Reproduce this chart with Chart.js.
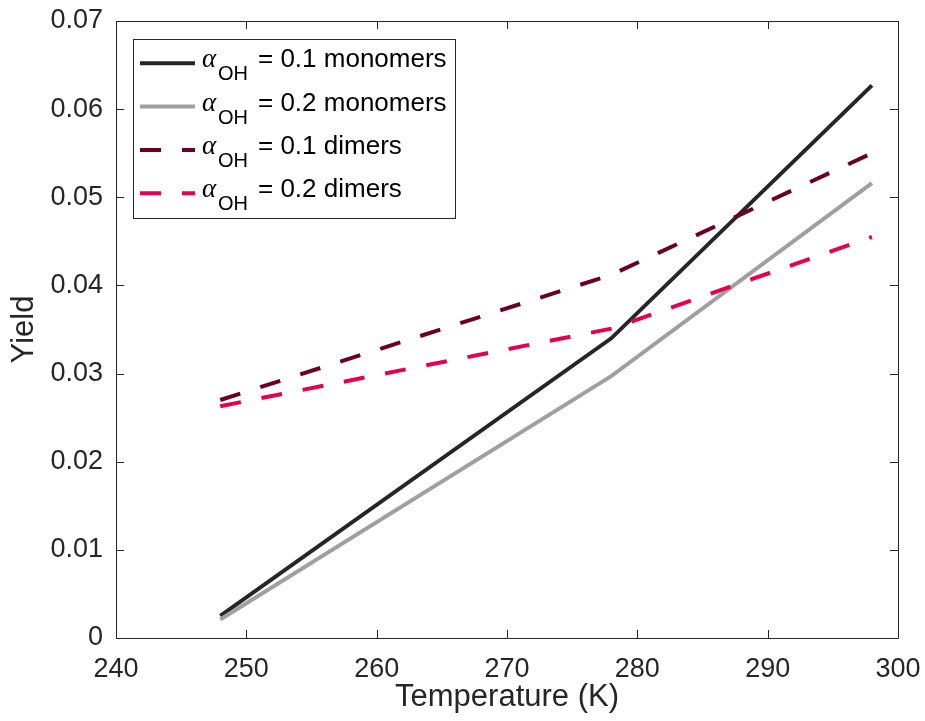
<!DOCTYPE html>
<html>
<head>
<meta charset="utf-8">
<script src="https://cdn.jsdelivr.net/npm/chart.js@4/dist/chart.umd.min.js"></script>
<style>
  html, body { margin: 0; padding: 0; background: #ffffff; }
  #wrap { width: 925px; height: 721px; }
</style>
</head>
<body>
<div id="wrap"><canvas id="c" width="925" height="721"></canvas></div>
<script>
// ---- data ----
const temperatures = [248, 278, 298];
const mono01  = [0.0025, 0.0340, 0.0627];
const mono02  = [0.0021, 0.0297, 0.0516];
const dimer01 = [0.0270, 0.0412, 0.0550];
const dimer02 = [0.0263, 0.0351, 0.0455];

const alphaValues = ['0.1', '0.2', '0.1', '0.2'];
const speciesNames = ['monomers', 'monomers', 'dimers', 'dimers'];
const seriesColors = ['#262626', '#a0a0a0', '#6b0026', '#e6004e'];

const xTicks = [240, 250, 260, 270, 280, 290, 300];
const xTickLabels = ['240', '250', '260', '270', '280', '290', '300'];
const yTicks = [0, 0.01, 0.02, 0.03, 0.04, 0.05, 0.06, 0.07];
const yTickLabels = ['0', '0.01', '0.02', '0.03', '0.04', '0.05', '0.06', '0.07'];

const xTitle = 'Temperature (K)';
const yTitle = 'Yield';

const FONT = '"Liberation Sans", Arial, Helvetica, sans-serif';
const INK = '#262626';
const DASH = [21, 21];

function pts(ys) { return temperatures.map((t, i) => ({ x: t, y: ys[i] })); }

const seriesValues = [mono01, mono02, dimer01, dimer02];
const datasets = seriesValues.map((vals, i) => ({
  label: 'alpha_OH = ' + alphaValues[i] + ' ' + speciesNames[i],
  data: pts(vals),
  borderColor: seriesColors[i],
  backgroundColor: seriesColors[i],
  borderWidth: 4,
  borderDash: i >= 2 ? DASH : [],
  pointRadius: 0,
  pointHoverRadius: 0,
  tension: 0,
  fill: false,
  order: 4 - i
}));

// inward ticks on all four sides + box frame
const frameTicks = {
  id: 'frameTicks',
  afterDatasetsDraw(chart) {
    const ctx = chart.ctx;
    const a = chart.chartArea;
    const xs = chart.scales.x, ys = chart.scales.y;
    const L = 8;
    ctx.save();
    ctx.strokeStyle = INK;
    ctx.lineWidth = 1;
    ctx.beginPath();
    xTicks.forEach(v => {
      const px = Math.round(xs.getPixelForValue(v)) + 0.5;
      ctx.moveTo(px, a.bottom); ctx.lineTo(px, a.bottom - L);
      ctx.moveTo(px, a.top); ctx.lineTo(px, a.top + L);
    });
    yTicks.forEach(v => {
      const py = Math.round(ys.getPixelForValue(v)) + 0.5;
      ctx.moveTo(a.left, py); ctx.lineTo(a.left + L, py);
      ctx.moveTo(a.right, py); ctx.lineTo(a.right - L, py);
    });
    ctx.stroke();
    ctx.beginPath();
    ctx.rect(Math.round(a.left) + 0.5, Math.round(a.top) + 0.5,
             Math.round(a.right - a.left), Math.round(a.bottom - a.top));
    ctx.stroke();
    ctx.restore();
  }
};

// legend with subscripted alpha_OH
const subLegend = {
  id: 'subLegend',
  afterDraw(chart) {
    const ctx = chart.ctx;
    const a = chart.chartArea;
    const bx = a.left + 17, by = a.top + 18, bw = 322, bh = 179;
    ctx.save();
    ctx.fillStyle = '#ffffff';
    ctx.fillRect(bx, by, bw, bh);
    ctx.strokeStyle = INK;
    ctx.lineWidth = 1;
    ctx.strokeRect(Math.round(bx) + 0.5, Math.round(by) + 0.5, bw, bh);
    datasets.forEach((ds, i) => {
      const ly = by + 24.3 + i * 43.3;
      const x0 = bx + 7;
      ctx.beginPath();
      ctx.strokeStyle = ds.borderColor;
      ctx.lineWidth = 4;
      ctx.setLineDash(ds.borderDash);
      ctx.moveTo(x0, ly); ctx.lineTo(x0 + 55, ly);
      ctx.stroke();
      ctx.setLineDash([]);
      ctx.fillStyle = '#000000';
      ctx.textBaseline = 'alphabetic';
      ctx.textAlign = 'left';
      ctx.font = 'italic 27px "Liberation Serif", "DejaVu Serif", serif';
      ctx.fillText('\u03B1', x0 + 62, ly + 4);
      ctx.font = '20px ' + FONT;
      ctx.fillText('OH', x0 + 78, ly + 17);
      ctx.font = '26px ' + FONT;
      ctx.fillText('= ' + alphaValues[i] + ' ' + speciesNames[i], x0 + 118, ly + 4);
    });
    ctx.restore();
  }
};

new Chart(document.getElementById('c'), {
  type: 'line',
  data: { datasets },
  plugins: [frameTicks, subLegend],
  options: {
    responsive: false,
    animation: false,
    devicePixelRatio: 1,
    layout: { padding: { top: 21, right: 27, left: 0, bottom: 0 } },
    plugins: { legend: { display: false }, tooltip: { enabled: false } },
    scales: {
      x: {
        type: 'linear', min: 240, max: 300,
        afterBuildTicks: s => { s.ticks = xTicks.map(v => ({ value: v })); },
        afterFit: s => { s.height = 83; s.paddingLeft = 0; s.paddingRight = 0; },
        grid: { display: false, drawTicks: false },
        border: { display: false },
        ticks: {
          padding: 15, color: INK, maxRotation: 0, autoSkip: false,
          font: { family: FONT, size: 27 },
          callback: v => xTickLabels[xTicks.indexOf(v)]
        },
        title: {
          display: true, text: xTitle, color: INK,
          font: { family: FONT, size: 31 },
          padding: { top: 0, bottom: 5 }
        }
      },
      y: {
        type: 'linear', min: 0, max: 0.07,
        afterBuildTicks: s => { s.ticks = yTicks.map(v => ({ value: v })); },
        afterFit: s => { s.width = 116; s.paddingTop = 0; s.paddingBottom = 0; },
        grid: { display: false, drawTicks: false },
        border: { display: false },
        ticks: {
          padding: 13, color: INK, autoSkip: false,
          font: { family: FONT, size: 27 },
          callback: v => yTickLabels[yTicks.indexOf(v)]
        },
        title: {
          display: true, text: yTitle, color: INK,
          font: { family: FONT, size: 31 },
          padding: { top: 6, bottom: 0 }
        }
      }
    }
  }
});
</script>
</body>
</html>
